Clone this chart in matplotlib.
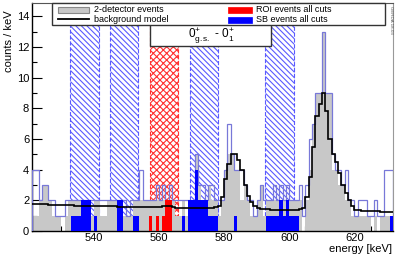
import numpy as np
import matplotlib.pyplot as plt
from matplotlib.patches import Rectangle
from matplotlib.lines import Line2D

plt.rcParams['font.family'] = ['Liberation Sans', 'DejaVu Sans']
plt.rcParams['mathtext.fontset'] = 'custom'
plt.rcParams['mathtext.rm'] = 'Liberation Sans'
plt.rcParams['mathtext.it'] = 'Liberation Sans:italic'
plt.rcParams['hatch.linewidth'] = 0.8

# 1 keV bins, 521 ... 631 keV
edges = np.arange(521, 633)

# 2-detector events (grey fill)
two_det = [1, 1, 2, 3, 3, 2, 1, 1, 1, 0,
           1, 2, 2, 2, 2, 2, 2, 2, 1, 2,
           2, 1, 1, 2, 2, 2, 2, 2, 1, 1,
           1, 2, 2, 2, 2, 2, 2, 2, 2, 2,
           2, 2, 2, 2, 1, 1, 2, 1, 2, 2,
           5, 3, 2, 2, 3, 2, 2, 1, 2, 4,
           5, 5, 4, 4, 2, 3, 2, 1, 1, 2,
           3, 1, 2, 2, 2, 2, 2, 2, 2, 2,
           2, 2, 2, 0, 2, 4, 7, 9, 9, 13,
           9, 9, 4, 4, 3, 3, 2, 2, 1, 1,
           1, 1, 1, 1, 0, 1, 0, 1, 1, 1,
           1]

# light blue outline histogram
outline = [4, 4, 2, 3, 3, 2, 2, 1, 1, 1,
           2, 2, 2, 2, 2, 2, 2, 2, 2, 2,
           2, 2, 2, 2, 2, 2, 2, 2, 2, 1,
           2, 2, 2, 4, 2, 2, 2, 2, 3, 2,
           3, 2, 3, 2, 2, 2, 2, 2, 2, 2,
           5, 3, 3, 2, 3, 3, 2, 2, 2, 4,
           7, 5, 4, 4, 4, 3, 2, 2, 1, 2,
           3, 2, 2, 2, 3, 2, 3, 2, 3, 2,
           2, 2, 3, 1, 3, 6, 7, 9, 9, 13,
           9, 9, 5, 4, 4, 3, 4, 2, 2, 1,
           2, 2, 2, 1, 1, 2, 1, 1, 4, 4,
           4]

# SB events all cuts
sb_cut = [0, 0, 0, 0, 0, 0, 0, 0, 0, 0,
          0, 0, 1, 1, 1, 2, 2, 2, 0, 1,
          0, 0, 0, 0, 0, 0, 2, 2, 0, 0,
          0, 1, 1, 0, 0, 0, 0, 0, 0, 0,
          0, 0, 0, 0, 0, 0, 1, 0, 2, 2,
          4, 2, 2, 2, 1, 1, 1, 0, 0, 0,
          0, 0, 1, 0, 0, 0, 0, 0, 0, 0,
          0, 0, 1, 1, 1, 1, 2, 1, 2, 1,
          1, 1, 0, 0, 0, 0, 0, 0, 0, 0,
          0, 0, 0, 0, 0, 0, 0, 0, 0, 0,
          0, 0, 0, 0, 0, 0, 0, 0, 0, 0,
          1]

# ROI events all cuts
roi_cut = [0, 0, 0, 0, 0, 0, 0, 0, 0, 0,
           0, 0, 0, 0, 0, 0, 0, 0, 0, 0,
           0, 0, 0, 0, 0, 0, 0, 0, 0, 0,
           0, 0, 0, 0, 0, 0, 1, 0, 1, 0,
           1, 2, 2, 0, 0, 0, 0, 0, 0, 0,
           0, 0, 0, 0, 0, 0, 0, 0, 0, 0,
           0, 0, 0, 0, 0, 0, 0, 0, 0, 0,
           0, 0, 0, 0, 0, 0, 0, 0, 0, 0,
           0, 0, 0, 0, 0, 0, 0, 0, 0, 0,
           0, 0, 0, 0, 0, 0, 0, 0, 0, 0,
           0, 0, 0, 0, 0, 0, 0, 0, 0, 0,
           0]

# background model
bkg_model = [1.78, 1.76, 1.75, 1.74, 1.73, 1.72, 1.71, 1.70, 1.70, 1.69,
             1.68, 1.68, 1.67, 1.66, 1.66, 1.65, 1.64, 1.64, 1.63, 1.62,
             1.62, 1.61, 1.60, 1.60, 1.62, 1.60, 1.59, 1.58, 1.57, 1.57,
             1.56, 1.55, 1.55, 1.54, 1.54, 1.55, 1.56, 1.57, 1.58, 1.58,
             1.60, 1.62, 1.60, 1.56, 1.53, 1.51, 1.50, 1.50, 1.49, 1.49,
             1.48, 1.48, 1.47, 1.47, 1.48, 1.50, 1.55, 1.65, 2.2, 3.4,
             4.4, 5.0, 5.0, 4.6, 4.0, 3.0, 2.3, 1.9, 1.6, 1.5,
             1.45, 1.42, 1.41, 1.40, 1.40, 1.39, 1.39, 1.38, 1.38, 1.38,
             1.38, 1.40, 1.45, 1.5, 2.2, 3.5, 5.5, 7.5, 8.3, 9.0,
             7.8, 6.0, 5.0, 4.5, 3.8, 3.0, 2.5, 2.0, 1.6, 1.4,
             1.35, 1.33, 1.32, 1.31, 1.30, 1.29, 1.28, 1.27, 1.26, 1.25,
             1.25]

sidebands = [(532.7, 541.7), (545.0, 553.6), (569.5, 578.1), (592.6, 601.6)]
roi = (557.2, 565.9)

W, H = 399, 257
ymax = 14.87


def fpx(x, y):
    # pixel position (y from top) -> figure fraction
    return x / W, 1 - y / H


fig = plt.figure(figsize=(W / 100, H / 100), dpi=100)
ax = fig.add_axes([32 / W, 26 / H, 361.4 / W, 228 / H])

for lo, hi in sidebands:
    ax.add_patch(Rectangle((lo, 0), hi - lo, ymax, fill=False, hatch='\\' * 6,
                           edgecolor='#5a5aff', linestyle='--', lw=0.8, zorder=1))
ax.add_patch(Rectangle((roi[0], 0), roi[1] - roi[0], ymax, fill=False, hatch='x' * 5,
                       edgecolor='#ff3030', linestyle='--', lw=0.8, zorder=1))

ax.stairs(two_det, edges, fill=True, color='#c8c8c8', zorder=2)
ax.stairs(outline, edges, color='#7878d8', lw=0.9, zorder=3)
ax.stairs(sb_cut, edges, fill=True, color='#0000ff', zorder=4)
ax.stairs(roi_cut, edges, fill=True, color='#ff0000', zorder=4)
ax.stairs(bkg_model, edges, color='black', lw=1.2, baseline=None, zorder=5)

ax.set_xlim(521, 632)
ax.set_ylim(0, ymax)
ax.set_xticks([540, 560, 580, 600, 620])
ax.set_xticks(np.arange(525, 632, 5), minor=True)
ax.set_yticks(np.arange(0, 15, 2))
ax.set_yticks(np.arange(1, 15, 2), minor=True)
ax.tick_params(which='both', direction='in', labelsize=8, width=0.8)
ax.tick_params(which='major', length=7)
ax.tick_params(which='minor', length=3.5)
ax.tick_params(axis='y', pad=2)
ax.tick_params(axis='x', pad=1.5)
ax.spines['top'].set_color('#555555')
ax.spines['right'].set_color('#999999')
for s in ['left', 'bottom']:
    ax.spines[s].set_linewidth(1.0)

# legend box
x0, y0 = fpx(51.7, 25)
fig.add_artist(Rectangle((x0, y0), (385 - 51.7) / W, (25 - 3.3) / H,
                         transform=fig.transFigure, facecolor='white',
                         edgecolor='#333333', lw=1, zorder=11))
x0, y0 = fpx(58, 13.3)
fig.add_artist(Rectangle((x0, y0), 31 / W, 6.6 / H, transform=fig.transFigure,
                         facecolor='#c8c8c8', edgecolor='#888888', lw=0.8, zorder=12))
fig.add_artist(Line2D([58 / W, 89 / W], [1 - 19.3 / H] * 2, transform=fig.transFigure,
                      color='black', lw=1.3, zorder=12))
x0, y0 = fpx(228, 12.7)
fig.add_artist(Rectangle((x0, y0), 24 / W, 5.4 / H, transform=fig.transFigure,
                         facecolor='#ff0000', edgecolor='#ff0000', lw=0.5, zorder=12))
x0, y0 = fpx(228, 22.7)
fig.add_artist(Rectangle((x0, y0), 24 / W, 6 / H, transform=fig.transFigure,
                         facecolor='#0000ff', edgecolor='#0000ff', lw=0.5, zorder=12))
for (x, y), label in zip([(94, 10), (94, 19.5), (256, 10), (256, 19.5)],
                         ['2-detector events', 'background model',
                          'ROI events all cuts', 'SB events all cuts']):
    fig.text(*fpx(x, y), label, fontsize=6.5, ha='left', va='center', zorder=12)

# transition box
x0, y0 = fpx(150, 45.7)
fig.add_artist(Rectangle((x0, y0), 121 / W, 21.7 / H, transform=fig.transFigure,
                         facecolor='white', edgecolor='#333333', lw=1, zorder=10))
fig.text(*fpx(211, 36), r'$0^{+}_{\mathrm{g.s.}}$ - $0^{+}_{1}$', fontsize=8.5,
         ha='center', va='center', zorder=12)

fig.text(*fpx(9, 10), 'counts / keV', rotation=90, fontsize=8, ha='center', va='top')
fig.text(*fpx(392, 249.5), 'energy [keV]', fontsize=8, ha='right', va='center')
fig.text(*fpx(390.5, 6), 'GERDA 18-03', rotation=270, fontsize=3.2,
         ha='center', va='top', color='#555555')

fig.savefig('out.png', dpi=100)
